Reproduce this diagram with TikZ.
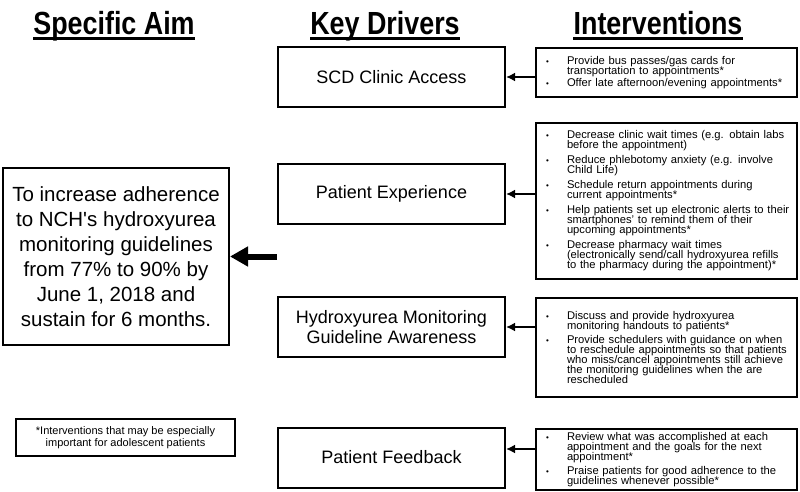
\documentclass[tikz,border=0pt]{standalone}
\usepackage{fontspec}
\setmainfont{Liberation Sans}
\newfontfamily\hdfont[FakeStretch=0.84]{Liberation Sans}
\usetikzlibrary{arrows.meta}
\tikzstyle{hd}=[font=\hdfont\bfseries\fontsize{32}{36}\selectfont,inner sep=0pt,anchor=base]
\tikzstyle{ul}=[line width=2.4pt]
\tikzstyle{driver}=[draw,line width=2pt,minimum width=227pt,minimum height=60pt,align=center,font=\fontsize{18}{20}\selectfont]
\tikzstyle{intv}=[draw,line width=2.4pt,minimum width=261pt,text width=249pt,inner xsep=6pt,align=left,font={\fontsize{11.2}{10}\selectfont\lineskiplimit=-20pt\hyphenpenalty=10000}]
\tikzstyle{arrow}=[-{Latex[length=9pt,width=9pt]},line width=2pt]
\newcommand{\bl}{\makebox[25pt][l]{\hspace{4pt}\fontsize{8}{8}\selectfont\textbullet}}
\newcommand{\ind}{\hspace*{25pt}}

\begin{document}
\begin{tikzpicture}[x=1pt,y=-1pt]
\tikzstyle{aimbox}=[draw,line width=2pt,minimum width=226pt,minimum height=177pt,align=center,font=\fontsize{20.5}{25}\selectfont]
\tikzstyle{note}=[draw,line width=2pt,minimum width=219pt,minimum height=37pt,align=center,font=\fontsize{11}{12}\selectfont]
\tikzstyle{bigarrow}=[-{Triangle[length=18pt,width=19pt]},line width=6pt]
\useasboundingbox (0,0) rectangle (800,492);
\node (aimhd) [hd] at (114,35) {Specific Aim};
\node (keyhd) [hd] at (385,35) {Key Drivers};
\node (inthd) [hd] at (658,35) {Interventions};
\draw [ul] ([yshift=-3.5pt]aimhd.base west) -- ([yshift=-3.5pt]aimhd.base east);
\draw [ul] ([yshift=-3.5pt]keyhd.base west) -- ([yshift=-3.5pt]keyhd.base east);
\draw [ul] ([yshift=-3.5pt]inthd.base west) -- ([yshift=-3.5pt]inthd.base east);
\node (aim) [aimbox] at (116,256.5) {To increase adherence\\to NCH\textquotesingle s hydroxyurea\\monitoring guidelines\\from 77\% to 90\% by\\June 1, 2018 and\\sustain for 6 months.};
\node (note) [note] at (125.5,437.5) {*Interventions that may be especially\\important for adolescent patients};
\node (scd) [driver] at (391.5,77) {SCD Clinic Access};
\node (pe) [driver] at (391.5,194) {Patient Experience};
\node (hm) [driver] at (391.5,327) {Hydroxyurea Monitoring\\Guideline Awareness};
\node (pf) [driver] at (391.5,457.5) {Patient Feedback};
\node (i1) [intv,minimum height=49pt] at (666.5,72.5) {\bl Provide bus passes/gas cards for\\
\ind transportation to appointments*\\[2pt]
\bl Offer late afternoon/evening appointments*};
\node (i2) [intv,minimum height=156pt] at (666.5,201) {\bl Decrease clinic wait times (e.g. obtain labs\\
\ind before the appointment)\\[5pt]
\bl Reduce phlebotomy anxiety (e.g. involve\\
\ind Child Life)\\[5pt]
\bl Schedule return appointments during\\
\ind current appointments*\\[5pt]
\bl Help patients set up electronic alerts to their\\
\ind smartphones' to remind them of their\\
\ind upcoming appointments*\\[5pt]
\bl Decrease pharmacy wait times\\
\ind (electronically send/call hydroxyurea refills\\
\ind to the pharmacy during the appointment)*};
\node (i3) [intv,minimum height=99pt] at (666.5,347.5) {\bl Discuss and provide hydroxyurea\\
\ind monitoring handouts to patients*\\[3.5pt]
\bl Provide schedulers with guidance on when\\
\ind to reschedule appointments so that patients\\
\ind who miss/cancel appointments still achieve\\
\ind the monitoring guidelines when the are\\
\ind rescheduled};
\node (i4) [intv,minimum height=55pt] at (666.5,459.5) {\bl Review what was accomplished at each\\
\ind appointment and the goals for the next\\
\ind appointment*\\[3.5pt]
\bl Praise patients for good adherence to the\\
\ind guidelines whenever possible*};
\coordinate (tail) at (277,256.5);
\draw [bigarrow] (tail) -- (aim.east);
\draw [arrow] (i1.west |- scd.east) -- (scd.east);
\draw [arrow] (i2.west |- pe.east) -- (pe.east);
\draw [arrow] (i3.west |- hm.east) -- (hm.east);
\draw [arrow] ([yshift=8.5pt]i4.west |- pf.east) -- ([yshift=8.5pt]pf.east);
\end{tikzpicture}
\end{document}
